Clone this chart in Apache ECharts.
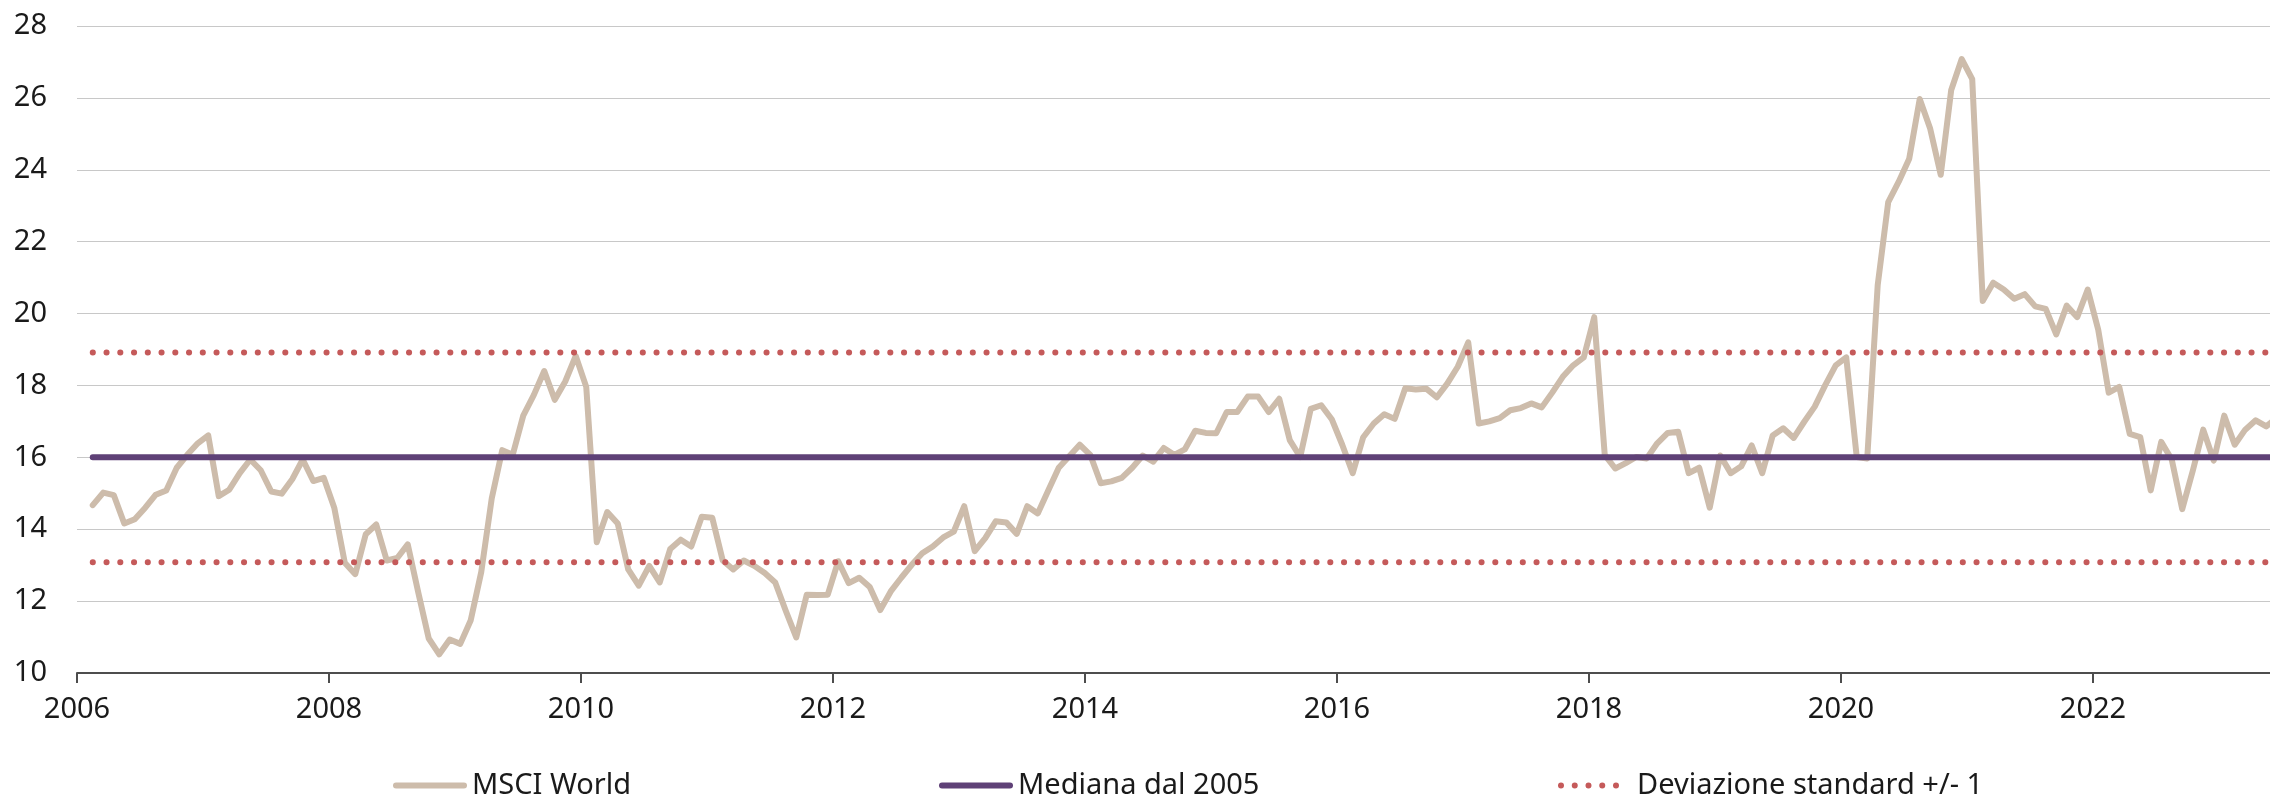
<!DOCTYPE html>
<html>
<head>
<meta charset="utf-8">
<script src="https://cdn.jsdelivr.net/npm/echarts@6/dist/echarts.min.js"></script>
<style>
  html, body { margin: 0; padding: 0; background: #fff; }
  #main { width: 2270px; height: 800px; }
</style>
</head>
<body>
<div id="main"></div>
<script>
// P/E MSCI World, mensile da febbraio 2006
var startYear = 2006;
var startMonth = 2;
var msciWorld = [
  14.67, 15.02, 14.95, 14.16, 14.28, 14.6, 14.96, 15.08, 15.71, 16.07, 16.39, 16.61,
  14.92, 15.1, 15.56, 15.94, 15.64, 15.05, 14.99, 15.39, 15.94, 15.34, 15.43, 14.6,
  13.07, 12.75, 13.86, 14.13, 13.13, 13.2, 13.58, 12.24, 10.96, 10.52, 10.93, 10.81,
  11.47, 12.81, 14.86, 16.2, 16.07, 17.16, 17.73, 18.4, 17.6, 18.11, 18.82, 17.96,
  13.64, 14.48, 14.16, 12.88, 12.43, 12.98, 12.52, 13.45, 13.71, 13.52, 14.35, 14.32,
  13.13, 12.88, 13.13, 12.98, 12.78, 12.52, 11.73, 10.99, 12.18, 12.17, 12.18, 13.11,
  12.5, 12.65, 12.39, 11.75, 12.27, 12.65, 13.01, 13.33, 13.52, 13.77, 13.93, 14.64,
  13.39, 13.75, 14.22, 14.19, 13.87, 14.64, 14.44, 15.08, 15.71, 16.03, 16.35, 16.07,
  15.28, 15.33, 15.43, 15.71, 16.05, 15.88, 16.26, 16.07, 16.22, 16.74, 16.68, 16.67,
  17.26, 17.26, 17.69, 17.69, 17.26, 17.63, 16.48, 16.01, 17.35, 17.45, 17.06, 16.35,
  15.56, 16.56, 16.94, 17.2, 17.07, 17.92, 17.89, 17.91, 17.67, 18.05, 18.52, 19.2,
  16.94, 17.0, 17.09, 17.31, 17.37, 17.5, 17.39, 17.8, 18.24, 18.56, 18.78, 19.9,
  16.07, 15.69, 15.84, 16.01, 15.97, 16.39, 16.68, 16.71, 15.56, 15.71, 14.6, 16.05,
  15.56, 15.75, 16.33, 15.56, 16.61, 16.81, 16.54, 16.99, 17.41, 18.01, 18.56, 18.78,
  16.01, 15.97, 20.8, 23.1, 23.67, 24.31, 25.97, 25.14, 23.86, 26.22, 27.08, 26.52,
  20.35, 20.86, 20.67, 20.41, 20.54, 20.2, 20.13, 19.42, 20.22, 19.9, 20.67, 19.55,
  17.8, 17.96, 16.65, 16.56, 15.08, 16.43, 15.94, 14.56, 15.62, 16.77, 15.91, 17.16,
  16.35, 16.77, 17.03, 16.86, 17.1
];
var mediana = 16;
var devStd = [18.92, 13.08];
var yearTicks = [2006, 2008, 2010, 2012, 2014, 2016, 2018, 2020, 2022];

// data a metà mese, in anni decimali
function monthPos(i) {
  var m = startMonth - 1 + i;
  return startYear + Math.floor(m / 12) + ((m % 12) + 0.5) / 12;
}

var msciData = msciWorld.map(function (v, i) { return [monthPos(i), v]; });
var x0 = monthPos(0);
var x1 = monthPos(msciWorld.length - 1);

var textColor = '#1a1a1a';
var font = 'Noto Sans';
var cTan = '#cdbcab', cViola = '#5f4177', cRosso = '#c55a5a';

// icone legenda (74x6)
var iconLinea = 'path://M3,0 L71,0 A3,3 0 0 1 71,6 L3,6 A3,3 0 0 1 3,0 Z';
var iconPunti = 'path://M74,3 L74,3 ' + [3, 16.75, 30.5, 44.25, 58].map(function (cx) {
  return 'M' + (cx - 3) + ',3 A3,3 0 1 0 ' + (cx + 3) + ',3 A3,3 0 1 0 ' + (cx - 3) + ',3 Z';
}).join(' ');

function legenda(left, name, icon) {
  return {
    left: left, top: 766,
    itemWidth: 74, itemHeight: 6,
    textStyle: { fontFamily: font, fontSize: 29, color: textColor },
    data: [{ name: name, icon: icon }]
  };
}

var chart = echarts.init(document.getElementById('main'));
chart.setOption({
  animation: false,
  grid: { left: 77, right: 0, top: 26, bottom: 127, containLabel: false },
  legend: [
    legenda(388, 'MSCI World', iconLinea),
    legenda(934, 'Mediana dal 2005', iconLinea),
    legenda(1553, 'Deviazione standard +/- 1', iconPunti)
  ],
  xAxis: {
    type: 'value',
    min: 2006,
    max: 2023.405,
    interval: 2,
    splitLine: { show: false },
    axisLine: { lineStyle: { color: '#4d4d4d', width: 2 } },
    axisTick: { show: true, length: 10, lineStyle: { color: '#4d4d4d', width: 2 }, customValues: yearTicks },
    axisLabel: {
      customValues: yearTicks,
      formatter: function (v) { return String(v); },
      fontFamily: font, fontSize: 29, color: textColor, margin: 22
    }
  },
  yAxis: {
    type: 'value',
    min: 10,
    max: 28,
    interval: 2,
    axisLine: { show: false },
    axisTick: { show: false },
    splitLine: { lineStyle: { color: '#c8c8c8', width: 1.2 } },
    axisLabel: { fontFamily: font, fontSize: 29, color: textColor, margin: 30 }
  },
  series: [
    {
      name: 'MSCI World',
      type: 'line',
      data: msciData,
      symbol: 'none',
      lineStyle: { color: cTan, width: 6, cap: 'round', join: 'round' },
      itemStyle: { color: cTan }
    },
    {
      name: 'Mediana dal 2005',
      type: 'line',
      data: [[x0, mediana], [x1, mediana]],
      symbol: 'none',
      lineStyle: { color: cViola, width: 6, cap: 'round' },
      itemStyle: { color: cViola }
    },
    {
      name: 'Deviazione standard +/- 1',
      type: 'line',
      data: [[x0, devStd[0]], [x1, devStd[0]]],
      symbol: 'none',
      lineStyle: { color: cRosso, width: 6, type: [0.1, 13.65], cap: 'round' },
      itemStyle: { color: cRosso }
    },
    {
      name: 'Deviazione standard +/- 1',
      type: 'line',
      data: [[x0, devStd[1]], [x1, devStd[1]]],
      symbol: 'none',
      lineStyle: { color: cRosso, width: 6, type: [0.1, 13.65], cap: 'round' },
      itemStyle: { color: cRosso }
    }
  ]
});
</script>
</body>
</html>
